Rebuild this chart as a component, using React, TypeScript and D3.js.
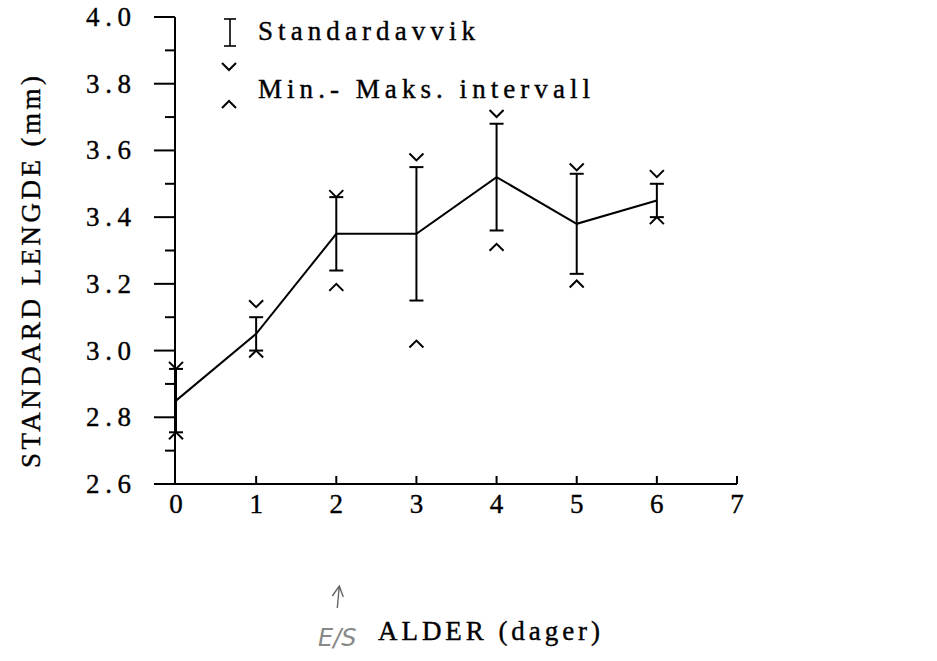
import React from "react";
import * as d3 from "d3";

const days = [0, 1, 2, 3, 4, 5, 6];
const means = [2.85, 3.05, 3.35, 3.35, 3.52, 3.38, 3.45];
const sds = [0.095, 0.05, 0.11, 0.2, 0.16, 0.15, 0.05];
const maxs = [2.945, 3.13, 3.46, 3.57, 3.7, 3.54, 3.52];
const mins = [2.755, 3.0, 3.2, 3.03, 3.32, 3.21, 3.4];
const xTicks = [0, 1, 2, 3, 4, 5, 6, 7];
const yTicks = [2.6, 2.7, 2.8, 2.9, 3.0, 3.1, 3.2, 3.3, 3.4, 3.5, 3.6, 3.7, 3.8, 3.9, 4.0];
const yLabels = ["2.6", "2.8", "3.0", "3.2", "3.4", "3.6", "3.8", "4.0"];

const W = 937;
const H = 661;
const FONT = "'Liberation Serif', serif";

export default function App() {
  const x = d3.scaleLinear().domain([0, 7]).range([176, 737]);
  const y = d3.scaleLinear().domain([2.6, 4.0]).range([484, 17]);
  const line = d3
    .line<number>()
    .x((_, i) => x(days[i]))
    .y((d) => y(d));
  const axX = x(0) - 1;
  const cap = 7;
  const mk = 7;
  const vPath = (cx: number, cy: number) =>
    `M${cx - mk},${cy - mk}L${cx},${cy}L${cx + mk},${cy - mk}`;
  const aPath = (cx: number, cy: number) =>
    `M${cx - mk},${cy + mk}L${cx},${cy}L${cx + mk},${cy + mk}`;

  return (
    <svg
      width={W}
      height={H}
      style={{ position: "absolute", left: 0, top: 0, background: "#fff" }}
    >
      <g stroke="#000" strokeWidth={2} fill="none">
        <line x1={axX} y1={y(4.0)} x2={axX} y2={y(2.6)} />
        {yTicks.map((t, i) => (
          <line
            key={"yt" + i}
            x1={axX - (i % 2 === 0 ? 21 : 10)}
            x2={axX}
            y1={y(t)}
            y2={y(t)}
          />
        ))}
        <line x1={axX} y1={y(2.6)} x2={x(7)} y2={y(2.6)} />
        {xTicks.slice(1).map((t) => (
          <line key={"xt" + t} x1={x(t)} x2={x(t)} y1={y(2.6)} y2={y(2.6) - 8} />
        ))}
        <path d={line(means) || ""} />
        {days.map((d, i) => (
          <g key={"sd" + i}>
            <line x1={x(d)} x2={x(d)} y1={y(means[i] + sds[i])} y2={y(means[i] - sds[i])} />
            <line x1={x(d) - cap} x2={x(d) + cap} y1={y(means[i] + sds[i])} y2={y(means[i] + sds[i])} />
            <line x1={x(d) - cap} x2={x(d) + cap} y1={y(means[i] - sds[i])} y2={y(means[i] - sds[i])} />
            <path d={vPath(x(d), y(maxs[i]))} />
            <path d={aPath(x(d), y(mins[i]))} />
          </g>
        ))}
        <line x1={230} x2={230} y1={19} y2={46} strokeWidth={1.6} />
        <line x1={224} x2={236} y1={19} y2={19} strokeWidth={1.6} />
        <line x1={224} x2={236} y1={46} y2={46} strokeWidth={1.6} />
        <path d={vPath(229, 70)} />
        <path d={aPath(229, 101)} />
      </g>

      <g fontFamily={FONT} fill="#000" stroke="#000" strokeWidth={0.4} fontSize={27}>
        {yLabels.map((l) => (
          <text key={l} x={131} y={y(+l) + 9} textAnchor="end" textLength={45} lengthAdjust="spacing">
            {l}
          </text>
        ))}
        {xTicks.map((t) => (
          <text key={"xl" + t} x={x(t)} y={y(2.6) + 29} textAnchor="middle">
            {t}
          </text>
        ))}
        <text x={378} y={640} textLength={222} lengthAdjust="spacing">
          ALDER (dager)
        </text>
        <text
          transform={`translate(40, ${272}) rotate(-90)`}
          textAnchor="middle"
          textLength={392}
          lengthAdjust="spacing"
        >
          STANDARD LENGDE (mm)
        </text>
        <text x={258} y={40} textLength={217} lengthAdjust="spacing">
          Standardavvik
        </text>
        <text x={258} y={98} textLength={332} lengthAdjust="spacing">
          Min.- Maks. intervall
        </text>
      </g>
      <g stroke="#666" strokeWidth={1.4} fill="none">
        <path d={`M${x(2) + 1},${608} L${x(2) + 3},${586} M${x(2) - 4},${596} L${x(2) + 3},${586} L${x(2) + 7},${597}`} />
      </g>
      <text x={318} y={646} fontFamily="'DejaVu Sans', sans-serif" fontSize={24} fill="#888" fontStyle="italic">
        E/S
      </text>
    </svg>
  );
}
